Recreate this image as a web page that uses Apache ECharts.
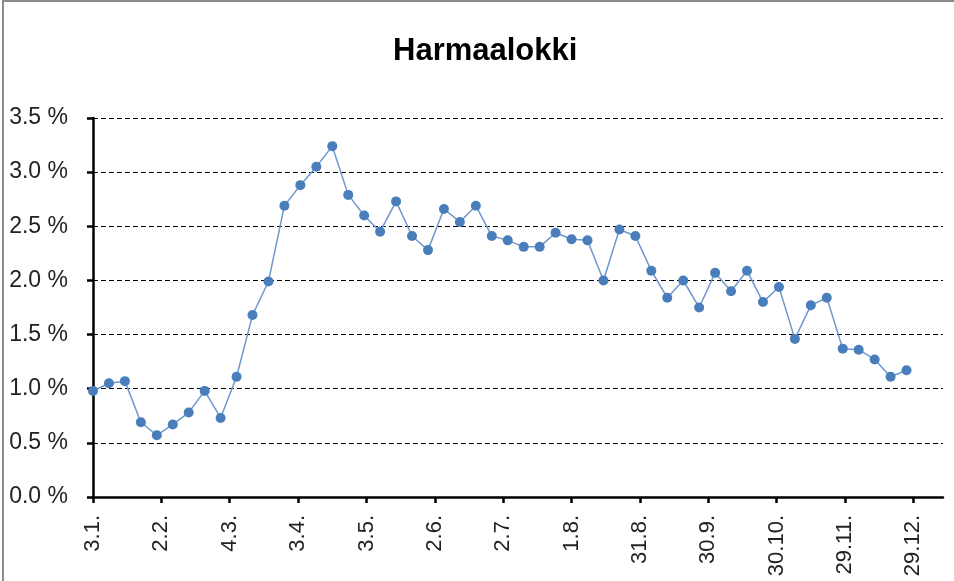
<!DOCTYPE html>
<html>
<head>
<meta charset="utf-8">
<script src="https://cdn.jsdelivr.net/npm/echarts@6/dist/echarts.min.js"></script>
<style>
    html, body { margin: 0; padding: 0; background: #fff; }
    #js-line { width: 954px; height: 581px; }
</style>
</head>
<body>
<div id="js-line"></div>
<script>
/*Harmaalokki*/
var startDate = [2010, 0, 3];          // 3.1.
var weekDays = [];                     // day offset of each weekly count
for (var i = 0; i < 52; i++) weekDays.push(i * 7);
var shares = [0.98, 1.05, 1.07, 0.69, 0.57, 0.67, 0.78, 0.98, 0.73, 1.11,
    1.68, 1.99, 2.69, 2.88, 3.05, 3.24, 2.79, 2.60, 2.45, 2.73,
    2.41, 2.28, 2.66, 2.54, 2.69, 2.41, 2.37, 2.31, 2.31, 2.44,
    2.38, 2.37, 2.00, 2.47, 2.41, 2.09, 1.84, 2.00, 1.75, 2.07,
    1.90, 2.09, 1.80, 1.94, 1.46, 1.77, 1.84, 1.37, 1.36, 1.27,
    1.11, 1.17];
var tickDays = [0, 30, 60, 90, 120, 150, 180, 210, 240, 270, 300, 330, 360];

var points = weekDays.map(function (d, i) { return [d, shares[i]]; });

function dayLabel(v) {
    var d = new Date(startDate[0], startDate[1], startDate[2] + v);
    return d.getDate() + '.' + (d.getMonth() + 1) + '.';
}

var lineChart = echarts.init(document.getElementById('js-line'));
var lineOption = {
    animation: false,
    graphic: [{
        type: 'rect',
        shape: { x: 3, y: 1, width: 1000, height: 700 },
        style: { fill: 'none', stroke: '#8c8c8c', lineWidth: 2 }
    }],
    title: {
        text: 'Harmaalokki',
        top: 31,
        left: 388,
        textStyle: {
            fontFamily: 'Liberation Sans',
            fontSize: 31,
            fontWeight: 'bold',
            color: '#000'
        }
    },
    grid: {
        left: 93,
        right: 11,
        top: 118,
        bottom: 84
    },
    xAxis: {
        type: 'value',
        min: 0,
        max: 373,
        interval: 30,
        splitLine: { show: false },
        axisLine: { lineStyle: { color: '#000', width: 2.5 } },
        axisTick: {
            customValues: tickDays,
            length: 6,
            lineStyle: { color: '#000', width: 2.5 }
        },
        axisLabel: {
            customValues: tickDays,
            rotate: 90,
            margin: 18,
            fontFamily: 'Liberation Sans',
            fontSize: 22,
            color: '#222',
            formatter: dayLabel
        }
    },
    yAxis: {
        type: 'value',
        min: 0,
        max: 3.5,
        interval: 0.5,
        axisLine: { show: true, lineStyle: { color: '#000', width: 2.5 } },
        axisTick: { show: true, length: 6, lineStyle: { color: '#000', width: 2.5 } },
        splitLine: { lineStyle: { color: '#000', type: [5, 3], width: 1.2 } },
        axisLabel: {
            margin: 25,
            fontFamily: 'Liberation Sans',
            fontSize: 23,
            color: '#222',
            formatter: function (v) { return v.toFixed(1) + ' %'; }
        }
    },
    series: [{
        name: 'Harmaalokki',
        type: 'line',
        data: points,
        symbol: 'circle',
        symbolSize: 10,
        color: '#4F81BD',
        lineStyle: { color: '#6E98CE', width: 1.5 },
        itemStyle: { color: '#4A7EBB' }
    }]
};
lineChart.setOption(lineOption);
</script>
</body>
</html>
